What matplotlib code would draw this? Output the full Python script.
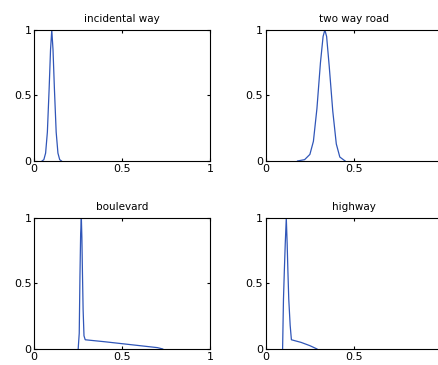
import numpy as np
import matplotlib
matplotlib.use("Agg")
import matplotlib.pyplot as plt

# membership curves
titles = ["incidental way", "two way road", "boulevard", "highway"]

x_incidental = [0.045, 0.055, 0.065, 0.075, 0.085, 0.093, 0.100, 0.107, 0.115, 0.125, 0.135, 0.145, 0.155]
y_incidental = [0.0, 0.01, 0.06, 0.22, 0.55, 0.85, 1.0, 0.85, 0.55, 0.22, 0.06, 0.01, 0.0]

x_twoway = [0.18, 0.22, 0.25, 0.27, 0.29, 0.31, 0.325, 0.335, 0.345, 0.36, 0.38, 0.40, 0.42, 0.45]
y_twoway = [0.0, 0.01, 0.05, 0.15, 0.40, 0.75, 0.95, 1.0, 0.95, 0.72, 0.38, 0.13, 0.03, 0.0]

x_boulevard = [0.25, 0.256, 0.26, 0.264, 0.268, 0.271, 0.274, 0.278, 0.283, 0.29, 0.40, 0.50, 0.60, 0.70, 0.73]
y_boulevard = [0.0, 0.12, 0.55, 0.88, 1.0, 0.85, 0.60, 0.30, 0.10, 0.07, 0.055, 0.04, 0.025, 0.01, 0.0]

x_highway = [0.095, 0.100, 0.105, 0.110, 0.116, 0.121, 0.125, 0.130, 0.138, 0.145, 0.20, 0.25, 0.29]
y_highway = [0.0, 0.38, 0.60, 0.80, 1.0, 0.80, 0.60, 0.38, 0.18, 0.07, 0.05, 0.025, 0.0]

xs = [x_incidental, x_twoway, x_boulevard, x_highway]
ys = [y_incidental, y_twoway, y_boulevard, y_highway]

fig = plt.figure(figsize=(4.38, 3.65), dpi=100)
fig.patch.set_facecolor("white")

w, h = 0.402, 0.359
positions = [(0.078, 0.559), (0.607, 0.559), (0.078, 0.044), (0.607, 0.044)]

for i, (pos, t, x, y) in enumerate(zip(positions, titles, xs, ys)):
    right_col = i % 2 == 1
    ax = fig.add_axes([pos[0], pos[1], w, h])
    ax.plot(x, y, color="#3056b8", linewidth=0.9)
    ax.set_xlim(0, 1)
    ax.set_ylim(0, 1)
    ax.set_xticks([0, 0.5, 1])
    ax.set_yticks([0, 0.5, 1])
    # right column is clipped by the figure edge, so its "1" never shows
    ax.set_xticklabels(["0", "0.5", "" if right_col else "1"])
    ax.set_yticklabels(["0", "0.5", "1"])
    ax.tick_params(direction="in", length=2.5, width=0.8, labelsize=8,
                   top=True, right=not right_col, pad=2)
    for s in ax.spines.values():
        s.set_linewidth(0.8)
    if right_col:
        ax.spines["right"].set_visible(False)
    ax.set_title(t, fontsize=7.5, pad=6)

fig.savefig("out.png", dpi=100)
